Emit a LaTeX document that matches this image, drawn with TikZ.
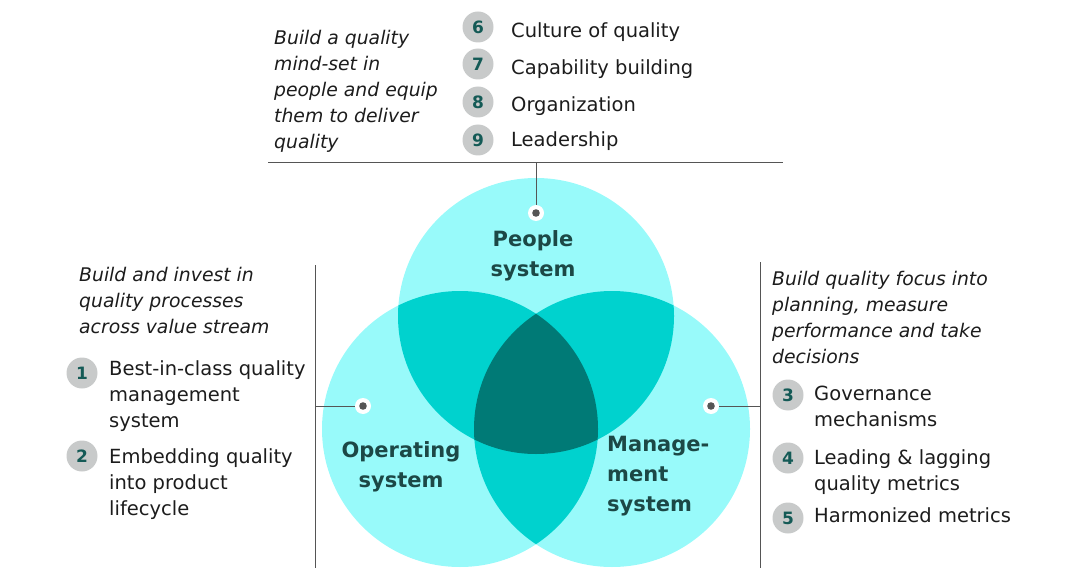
\documentclass[tikz,border=0pt]{standalone}
\usepackage{fontspec}
\setmainfont{DejaVu Sans}
\definecolor{lightc}{RGB}{152,250,250}
\definecolor{midc}{RGB}{0,210,206}
\definecolor{darkc}{RGB}{0,122,118}
\definecolor{labc}{RGB}{28,72,70}
\definecolor{txtc}{RGB}{28,28,28}
\definecolor{linec}{RGB}{85,85,85}
\definecolor{badgec}{RGB}{200,202,202}
\definecolor{numc}{RGB}{20,90,86}
\begin{document}
\begin{tikzpicture}[x=1pt,y=-1pt,
  badge/.style={circle,fill=badgec,minimum size=31pt,inner sep=0pt,text=numc,font=\fontsize{17}{20}\selectfont\bfseries},
  item/.style={anchor=north west,inner sep=0pt,align=left,text=txtc,font=\fontsize{19.5}{26}\selectfont},
  intro/.style={anchor=north west,inner sep=0pt,align=left,text=txtc,font=\fontsize{18.8}{26}\selectfont\itshape},
  syslabel/.style={inner sep=0pt,align=center,text=labc,font=\fontsize{21}{30}\selectfont\bfseries},
  dot/.style={circle,fill=white,minimum size=16pt,inner sep=0pt,path picture={\fill[linec] (path picture bounding box.center) circle (3.8pt);}},
  conn/.style={draw=linec,line width=1pt}]
\useasboundingbox (0,0) rectangle (1081,588);
% circle centres
\coordinate (P) at (536,316);
\coordinate (O) at (460,429);
\coordinate (M) at (612,429);
\def\R{138}
% single regions
\fill[lightc] (P) circle (\R);
\fill[lightc] (O) circle (\R);
\fill[lightc] (M) circle (\R);
% pair overlaps
\begin{scope}\clip (P) circle (\R); \fill[midc] (O) circle (\R);\end{scope}
\begin{scope}\clip (P) circle (\R); \fill[midc] (M) circle (\R);\end{scope}
\begin{scope}\clip (O) circle (\R); \fill[midc] (M) circle (\R);\end{scope}
% triple overlap
\begin{scope}\clip (P) circle (\R); \clip (O) circle (\R); \fill[darkc] (M) circle (\R);\end{scope}

% system labels
\node[syslabel] (lp) at (533,256) {People\\system};
\node[syslabel] (lo) at (401,467) {Operating\\system};
\node[syslabel,align=left,anchor=north west] (lm) at (607,436) {Manage-\\ment\\system};

% connector lines
\coordinate (tl) at (268,163);
\coordinate (tr) at (783,163);
\coordinate (tm) at (536,163);
\coordinate (lt) at (315,265);
\coordinate (lb) at (315,568);
\coordinate (lm2) at (315,406);
\coordinate (rt) at (760,262);
\coordinate (rb) at (760,568);
\coordinate (rm2) at (760,406);

% dots
\node[dot] (dp) at (536,213) {};
\node[dot] (do) at (363,406) {};
\node[dot] (dm) at (711,406) {};

\draw[conn] (tl) -- (tr);
\draw[conn] (tm) -- (dp);
\draw[conn] (lt) -- (lb);
\draw[conn] (lm2) -- (do);
\draw[conn] (rt) -- (rb);
\draw[conn] (dm) -- (rm2);

% top block
\node[intro] (ti) at (274,30) {Build a quality\\mind-set in\\people and equip\\them to deliver\\quality};
\node[badge] (b6) at (478,27) {6};
\node[badge] (b7) at (478,64) {7};
\node[badge] (b8) at (478,102) {8};
\node[badge] (b9) at (478,140) {9};
\node[item] (t6) at (511,22) {Culture of quality};
\node[item] (t7) at (511,59) {Capability building};
\node[item] (t8) at (511,96) {Organization};
\node[item] (t9) at (511,131) {Leadership};

% left block
\node[intro] (li) at (79,267) {Build and invest in\\quality processes\\across value stream};
\node[badge] (b1) at (82,373) {1};
\node[badge] (b2) at (82,456) {2};
\node[item] (t1) at (109,360) {Best-in-class quality\\management\\system};
\node[item] (t2) at (109,448) {Embedding quality\\into product\\lifecycle};

% right block
\node[intro] (ri) at (772,271) {Build quality focus into\\planning, measure\\performance and take\\decisions};
\node[badge] (b3) at (788,395) {3};
\node[badge] (b4) at (788,458) {4};
\node[badge] (b5) at (788,518) {5};
\node[item] (t3) at (814,386) {Governance\\mechanisms};
\node[item] (t4) at (814,449) {Leading \& lagging\\quality metrics};
\node[item] (t5) at (814,507) {Harmonized metrics};
\end{tikzpicture}
\end{document}
